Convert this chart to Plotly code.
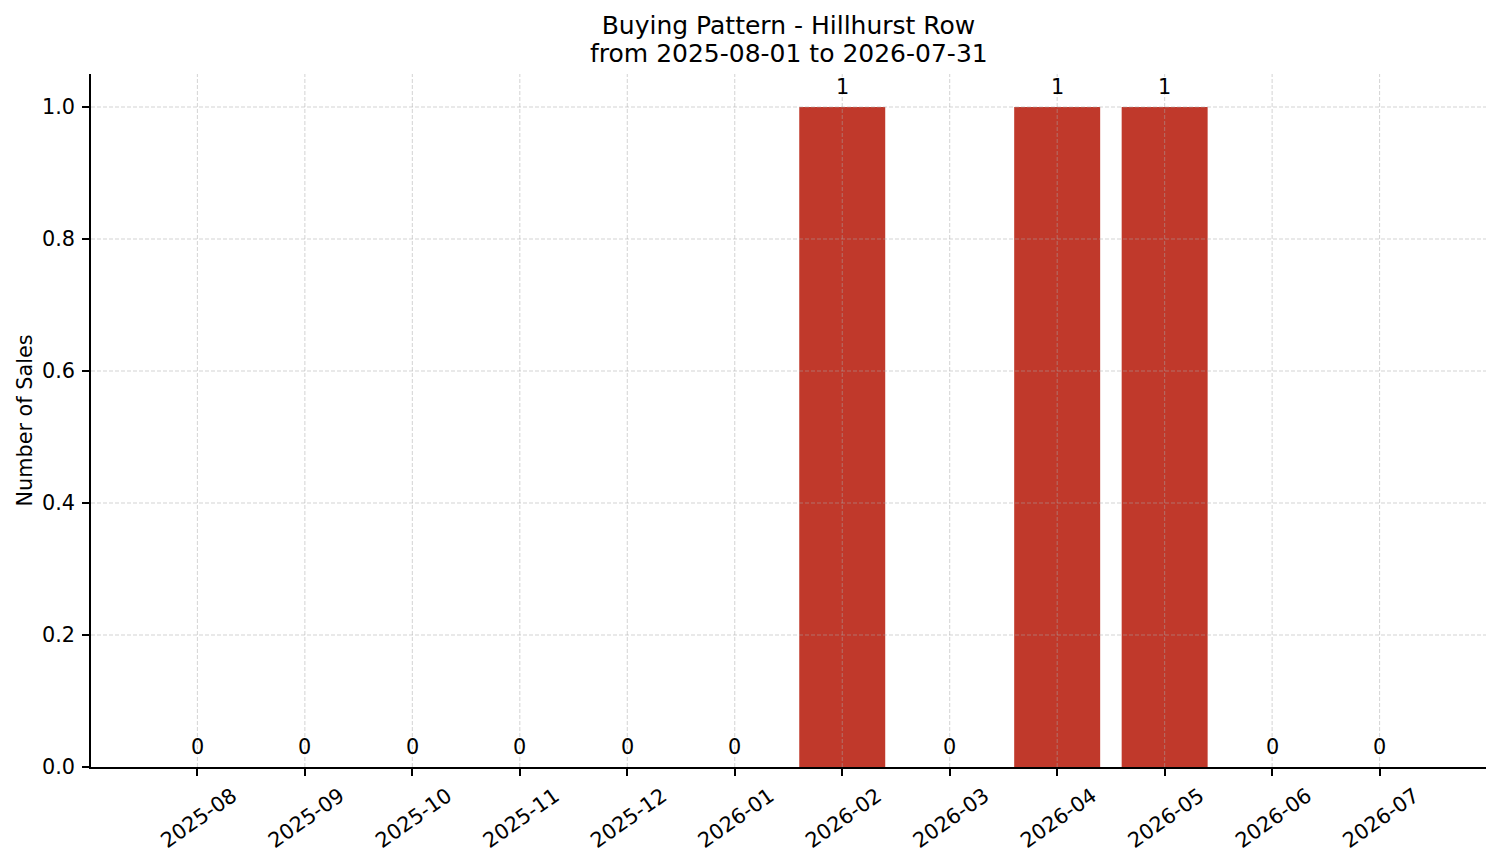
import plotly.graph_objects as go

# monthly sales counts
months = ["2025-08", "2025-09", "2025-10", "2025-11", "2025-12", "2026-01",
          "2026-02", "2026-03", "2026-04", "2026-05", "2026-06", "2026-07"]
sales = [0, 0, 0, 0, 0, 0, 1, 0, 1, 1, 0, 0]
y_ticks = [0.0, 0.2, 0.4, 0.6, 0.8, 1.0]

title_line1 = "Buying Pattern - Hillhurst Row"
title_line2 = "from 2025-08-01 to 2026-07-31"
bar_color = "#C0392B"
grid_color = "rgba(170,170,170,0.5)"
font = "DejaVu Sans"

fig = go.Figure()
fig.add_trace(
    go.Bar(
        x=months,
        y=sales,
        width=0.8,
        marker=dict(color=bar_color, line=dict(width=0)),
        showlegend=False,
    )
)

# value labels above each bar
for m, v in zip(months, sales):
    fig.add_annotation(
        x=m, y=v, text=str(v), showarrow=False,
        xanchor="center", yanchor="middle", yshift=20,
        font=dict(family=font, size=20.8, color="black"),
    )

# grid drawn on top of the bars, like the original
for m in months:
    fig.add_shape(type="line", xref="x", yref="paper", x0=m, x1=m, y0=0, y1=1,
                  line=dict(color=grid_color, width=1, dash="4px,2px"), layer="above")
for t in y_ticks[1:]:
    fig.add_shape(type="line", xref="paper", yref="y", x0=0, x1=1, y0=t, y1=t,
                  line=dict(color=grid_color, width=1, dash="4px,2px"), layer="above")

# second title line
fig.add_annotation(
    text=title_line2, xref="paper", yref="paper", x=0.5, y=1,
    xanchor="center", yanchor="middle", yshift=21, showarrow=False,
    font=dict(family=font, size=25, color="black"),
)

fig.update_layout(
    width=1501,
    height=863,
    margin=dict(l=91, r=15, t=74, b=96, autoexpand=False),
    plot_bgcolor="white",
    paper_bgcolor="white",
    font=dict(family=font, color="black"),
    title=dict(
        text=title_line1,
        x=0.5,
        xref="paper",
        y=1 - 25 / 863,
        yref="container",
        xanchor="center",
        yanchor="middle",
        font=dict(size=25, color="black"),
    ),
)
fig.update_xaxes(
    type="category",
    range=[-0.99, 11.99],
    automargin=False,
    showgrid=False,
    showline=True,
    linecolor="black",
    linewidth=1.6,
    ticks="outside",
    ticklen=7,
    tickwidth=1.6,
    tickcolor="black",
    tickangle=-35,
    ticklabelshift=35,
    tickfont=dict(size=20.8),
    zeroline=False,
)
fig.update_yaxes(
    range=[0, 1.05],
    automargin=False,
    tickvals=y_ticks,
    tickformat=".1f",
    showgrid=False,
    showline=True,
    linecolor="black",
    linewidth=1.6,
    ticks="outside",
    ticklen=7,
    tickwidth=1.6,
    tickcolor="black",
    tickfont=dict(size=20.8),
    ticklabelstandoff=3,
    zeroline=False,
    title=dict(text="Number of Sales", font=dict(size=20.8), standoff=4),
)

# page body has a default margin; drop it so the figure sits at 0,0
fig.write_html(
    "out.html",
    config={"displayModeBar": False},
    post_script="document.body.style.margin = '0';",
)
